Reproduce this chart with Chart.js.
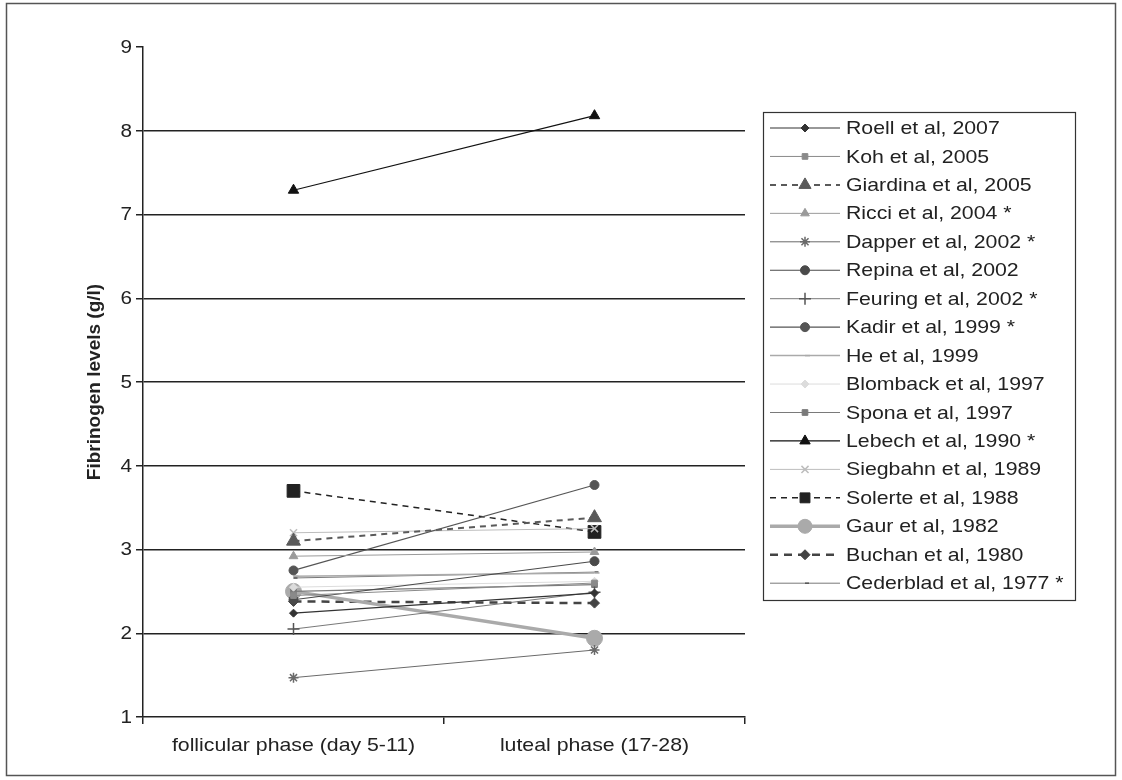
<!DOCTYPE html>
<html>
<head>
<meta charset="utf-8">
<script src="https://cdn.jsdelivr.net/npm/chart.js@4.4.0/dist/chart.umd.min.js"></script>
<style>
  body { margin: 0; background: #fff; }
  #wrap { position: relative; width: 1122px; height: 780px; }
</style>
</head>
<body>
<div id="wrap"><canvas id="myChart" width="1122" height="780"></canvas></div>
<script>
// donnees
const phases = ['follicular phase (day 5-11)', 'luteal phase (17-28)'];
const studies = [
    'Roell et al, 2007', 'Koh et al, 2005', 'Giardina et al, 2005', 'Ricci et al, 2004 *',
    'Dapper et al, 2002 *', 'Repina et al, 2002', 'Feuring et al, 2002 *', 'Kadir et al, 1999 *',
    'He et al, 1999', 'Blomback et al, 1997', 'Spona et al, 1997', 'Lebech et al, 1990 *',
    'Siegbahn et al, 1989', 'Solerte et al, 1988', 'Gaur et al, 1982', 'Buchan et al, 1980',
    'Cederblad et al, 1977 *'
];
const follicular = [2.24, 2.45, 3.10, 2.92, 1.47, 2.40, 2.05, 2.75, 2.68, 2.55, 2.50, 7.29, 3.20, 3.70, 2.50, 2.38, 2.66];
const luteal     = [2.48, 2.60, 3.38, 2.97, 1.80, 2.86, 2.49, 3.77, 2.72, 2.62, 2.58, 8.18, 3.25, 3.21, 1.94, 2.36, 2.73];
const yTicks = [1, 2, 3, 4, 5, 6, 7, 8, 9];
const yTitle = 'Fibrinogen levels (g/l)';

// styles (couleur, marqueur, taille, epaisseur, pointilles)
const styles = [
    { c: '#333', p: 'rectRot', r: 4, w: 1.2, d: [] },
    { c: '#8a8a8a', p: 'rect', r: 4, w: 1, d: [] },
    { c: '#5a5a5a', p: 'triangle', r: 8, w: 2, d: [6, 5] },
    { c: '#9a9a9a', p: 'triangle', r: 5, w: 1, d: [] },
    { c: '#6a6a6a', p: 'star', r: 5, w: 1, d: [] },
    { c: '#4a4a4a', p: 'circle', r: 4.5, w: 1.2, d: [] },
    { c: '#555', p: 'cross', r: 6, w: 0.8, d: [] },
    { c: '#555', p: 'circle', r: 4.5, w: 1.2, d: [] },
    { c: '#aaa', p: 'dash', r: 5, w: 1.5, d: [] },
    { c: '#dcdcdc', p: 'rectRot', r: 4, w: 1, d: [] },
    { c: '#7a7a7a', p: 'rect', r: 4, w: 1.2, d: [] },
    { c: '#111', p: 'triangle', r: 6, w: 1.2, d: [] },
    { c: '#bdbdbd', p: 'crossRot', r: 5, w: 1, d: [] },
    { c: '#222', p: 'rect', r: 9, w: 1.5, d: [6, 5] },
    { c: '#aaa', p: 'circle', r: 8, w: 3.5, d: [] },
    { c: '#444', p: 'rectRot', r: 5, w: 2.5, d: [8, 6] },
    { c: '#555', p: 'dash', r: 4, w: 0.8, d: [] }
];

const datasets = studies.map(function(name, i) {
    const s = styles[i];
    return {
        label: name,
        data: [follicular[i], luteal[i]],
        borderColor: s.c,
        backgroundColor: s.c,
        pointBackgroundColor: s.c,
        pointBorderColor: s.c,
        borderWidth: s.w,
        borderDash: s.d,
        pointStyle: s.p,
        pointRadius: s.r,
        pointBorderWidth: (s.p === 'cross' || s.p === 'crossRot' || s.p === 'star' || s.p === 'dash') ? 1.5 : 1,
        tension: 0
    };
});

const FONT = 'Liberation Sans, Arial, sans-serif';
const STRETCH = 1.15; // le texte de la figure est un peu etire en largeur

// texte etire horizontalement
function wideText(ctx, txt, x, y, align) {
    ctx.save();
    ctx.translate(x, y);
    ctx.scale(STRETCH, 1);
    ctx.textAlign = align;
    ctx.fillText(txt, 0, 0);
    ctx.restore();
}

// textes des axes + legende maison (ligne + marqueur comme Excel)
const legendBox = {
    id: 'legendBox',
    afterDraw(chart) {
        const ctx = chart.ctx;
        const xs = chart.scales.x;
        const ys = chart.scales.y;
        ctx.save();
        // cadre exterieur
        ctx.strokeStyle = '#555';
        ctx.lineWidth = 1.5;
        ctx.strokeRect(6.5, 3.5, 1109, 772);

        ctx.fillStyle = '#222';
        ctx.textBaseline = 'middle';
        // graduations y
        ctx.font = '18px ' + FONT;
        yTicks.forEach(function(v) {
            wideText(ctx, String(v), 132, ys.getPixelForValue(v) + 1, 'right');
        });
        // etiquettes x
        ctx.font = '18.5px ' + FONT;
        phases.forEach(function(p, i) {
            wideText(ctx, p, xs.getPixelForValue(i), 746, 'center');
        });
        // titre y
        ctx.save();
        ctx.translate(95, (chart.chartArea.top + chart.chartArea.bottom) / 2);
        ctx.rotate(-Math.PI / 2);
        ctx.font = 'bold 19px ' + FONT;
        ctx.textAlign = 'center';
        ctx.fillText(yTitle, 0, 0);
        ctx.restore();

        // cadre legende
        ctx.strokeStyle = '#333';
        ctx.lineWidth = 1.2;
        ctx.strokeRect(763.5, 112.5, 312, 488);
        ctx.font = '18.5px ' + FONT;
        chart.data.datasets.forEach(function(ds, i) {
            const y = 128 + i * 28.45;
            ctx.save();
            ctx.strokeStyle = ds.borderColor;
            ctx.lineWidth = ds.borderWidth;
            ctx.setLineDash(ds.borderDash);
            ctx.beginPath();
            ctx.moveTo(770, y);
            ctx.lineTo(840, y);
            ctx.stroke();
            ctx.setLineDash([]);
            ctx.fillStyle = ds.pointBackgroundColor;
            ctx.strokeStyle = ds.pointBorderColor;
            ctx.lineWidth = ds.pointBorderWidth;
            const r = Math.min(ds.pointRadius, 7);
            if (Chart.helpers && Chart.helpers.drawPoint) {
                Chart.helpers.drawPoint(ctx, { pointStyle: ds.pointStyle, radius: r, borderWidth: ds.pointBorderWidth, rotation: 0 }, 805, y);
            }
            ctx.restore();
            wideText(ctx, ds.label, 846, y + 1, 'left');
        });
        ctx.restore();
    }
};

var ctx1 = document.getElementById('myChart').getContext('2d');
var myChart = new Chart(ctx1, {
    type: 'line',
    data: { labels: phases, datasets: datasets },
    options: {
        responsive: false,
        animation: false,
        layout: { padding: { left: 0, right: 377, top: 47, bottom: 0 } },
        plugins: {
            legend: { display: false },
            tooltip: { enabled: false }
        },
        scales: {
            x: {
                type: 'category',
                offset: true,
                grid: { offset: true, drawOnChartArea: false, color: '#222', tickLength: 7, lineWidth: 1.5 },
                border: { color: '#222', width: 1.5 },
                ticks: { display: false },
                afterFit(scale) { scale.height = 63; }
            },
            y: {
                min: 1,
                max: 9,
                afterBuildTicks(scale) { scale.ticks = yTicks.map(function(v) { return { value: v }; }); },
                grid: {
                    color(c) { return (c.tick && (c.tick.value === 9 || c.tick.value === 1)) ? 'rgba(0,0,0,0)' : '#222'; },
                    tickColor: '#222',
                    lineWidth: 1.5,
                    tickLength: 7
                },
                border: { color: '#222', width: 1.5 },
                ticks: { display: false },
                afterFit(scale) { scale.width = 143; }
            }
        }
    },
    plugins: [legendBox]
});
</script>
</body>
</html>
